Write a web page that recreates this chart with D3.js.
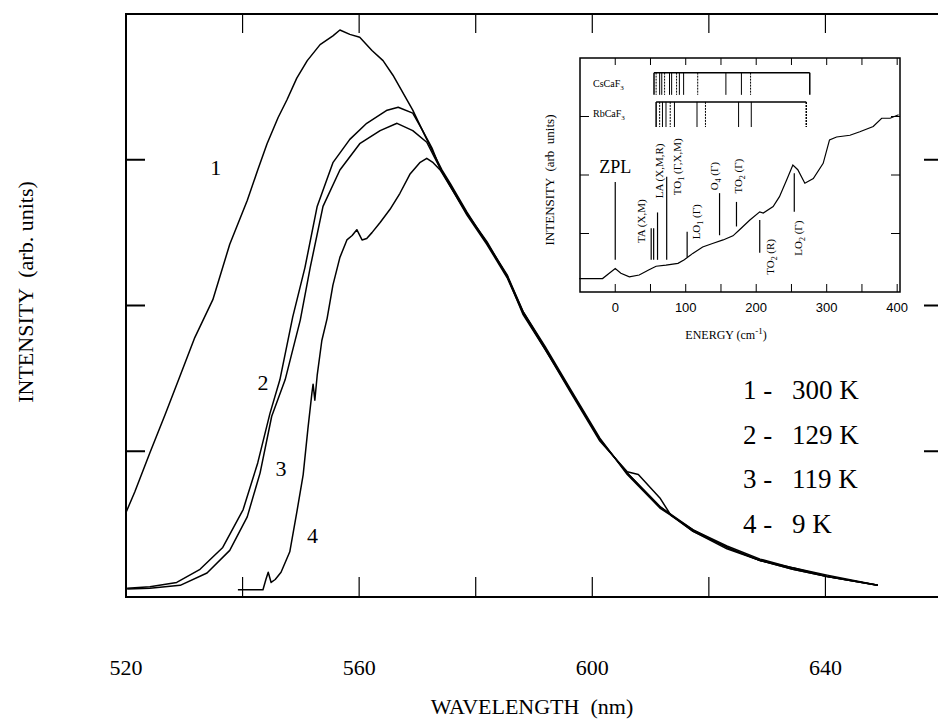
<!DOCTYPE html>
<html>
<head>
<meta charset="utf-8">
<script src="https://cdn.jsdelivr.net/npm/d3@7"></script>
<style>
  body { margin: 0; background: #fff; }
  svg { display: block; }
</style>
</head>
<body>
<div id="chart"></div>
<script>
// ---- main plot data (wavelength nm, intensity arb. units) ----
const xTickValues = [540, 560, 580, 600, 620, 640];
const xTickLabels = [520, 560, 600, 640];
const yTickValues = [1, 2, 3];

const curve1 = [[520.0,0.58],[521.5,0.72],[524.1,0.99],[526.7,1.25],[529.3,1.52],[531.8,1.78],
  [534.9,2.04],[537.8,2.42],[540.8,2.72],[542.6,2.93],[544.2,3.11],[546.1,3.29],[547.6,3.41],
  [549.3,3.56],[551.1,3.68],[553.3,3.79],[555.5,3.85],[556.7,3.89],[558.4,3.86],[560.1,3.84],
  [562.2,3.75],[564.1,3.68],[565.8,3.58],[567.5,3.46],[569.2,3.34],[571.0,3.19],[572.7,3.05],
  [574.2,2.93],[575.6,2.84],[578.5,2.64],[581.9,2.43],[585.4,2.21],[588.1,1.96],[591.9,1.71],
  [596.2,1.42],[601.3,1.08],[606.0,0.85],[611.6,0.62],[617.3,0.46],[623.1,0.34],[628.8,0.25],
  [634.4,0.19],[640.3,0.14],[649.0,0.08]];

const curve2 = [[520.2,0.06],[524.1,0.07],[528.7,0.10],[532.7,0.19],[536.6,0.34],[540.1,0.60],
  [542.6,0.92],[544.7,1.26],[546.4,1.49],[548.6,1.92],[550.7,2.26],[552.8,2.68],[555.5,2.98],
  [558.4,3.14],[561.3,3.25],[564.8,3.34],[566.7,3.36],[569.2,3.32],[570.9,3.20],[572.5,3.08],
  [573.9,2.94],[575.6,2.82],[578.5,2.62],[581.9,2.42],[585.4,2.19],[588.1,1.95],[591.9,1.70],
  [596.2,1.41],[601.3,1.07],[606.0,0.86],[607.9,0.84],[611.6,0.68],[613.5,0.56],[617.3,0.45],
  [623.1,0.33],[628.8,0.25],[634.4,0.20],[640.3,0.14],[649.0,0.08]];

const curve3 = [[520.2,0.055],[524.1,0.06],[529.3,0.08],[533.9,0.165],[537.8,0.32],[540.8,0.55],
  [543.0,0.85],[545.0,1.24],[547.3,1.49],[549.9,1.90],[551.6,2.26],[553.8,2.68],[556.7,2.93],
  [560.1,3.11],[563.6,3.20],[566.5,3.25],[569.2,3.20],[571.6,3.12],[573.9,2.94],[575.6,2.83],
  [578.5,2.63],[581.9,2.44],[585.4,2.20],[588.1,1.96],[591.9,1.72],[596.2,1.43],[601.3,1.09],
  [606.0,0.84],[611.6,0.61],[617.3,0.46],[623.1,0.35],[628.8,0.26],[634.4,0.20],[640.3,0.15],
  [649.0,0.08]];

const curve4 = [[539.2,0.05],[543.5,0.05],[544.0,0.12],[544.4,0.17],[544.9,0.10],[545.6,0.12],
  [546.6,0.17],[548.1,0.31],[549.3,0.58],[550.4,0.84],[551.2,1.15],[551.9,1.40],[552.1,1.46],
  [552.4,1.35],[552.8,1.52],[553.6,1.76],[554.5,1.91],[555.5,2.14],[556.7,2.33],[557.9,2.45],
  [558.8,2.48],[559.6,2.52],[560.5,2.45],[561.3,2.46],[562.2,2.50],[563.6,2.57],[565.3,2.66],
  [567.0,2.77],[568.7,2.90],[570.4,2.98],[571.6,3.01],[572.7,2.98],[573.9,2.93],[575.6,2.82],
  [578.5,2.63],[581.9,2.43],[585.4,2.20],[588.1,1.94],[591.9,1.70],[596.2,1.42],[601.3,1.08],
  [606.0,0.85],[611.6,0.62],[617.3,0.45],[623.1,0.34],[628.8,0.25],[634.4,0.19],[640.3,0.14],
  [649.0,0.08]];

const curves = [curve1, curve2, curve3, curve4];
const curveNames = ['1', '2', '3', '4'];
const curveLabelPos = [[535.4, 2.95], [543.5, 1.47], [546.6, 0.88], [552.0, 0.42]];

const legendNums = ['1 -', '2 -', '3 -', '4 -'];
const legendTemps = ['300 K', '129 K', '119 K', '9 K'];

// ---- inset data (energy cm-1, intensity arb. units) ----
const insetTickValues = [0, 50, 100, 150, 200, 250, 300, 350, 400];
const insetTickLabels = [0, 100, 200, 300, 400];
const insetYTicks = [1, 2, 3];
const insetCurve = [[-51,0.23],[-18,0.23],[-8.5,0.32],[0,0.40],[8,0.32],[20,0.26],[34,0.29],
  [48,0.38],[58,0.44],[72,0.46],[89,0.49],[98,0.55],[110,0.66],[124,0.77],[138,0.83],[153,0.89],
  [167,0.96],[176,1.06],[191,1.23],[205,1.37],[210,1.35],[224,1.46],[233,1.63],[243,1.91],
  [252,2.17],[259,2.09],[269,1.86],[281,1.94],[295,2.20],[304,2.60],[314,2.65],[333,2.68],
  [347,2.74],[366,2.83],[378,2.97],[390,2.97],[402,3.03]];

const csLines = [55, 58, 63, 66, 70, 77, 80, 87, 91, 97, 117, 157, 179, 192, 276];
const rbLines = [58, 63, 67, 72, 78, 84, 116, 128, 175, 193, 271];

// phonon markers: energy, low, high
const phononLines = [[0,0.55,1.88],[51,0.55,1.09],[54.5,0.55,1.09],[60,0.55,1.36],[73,0.55,1.97],
  [102,0.60,1.03],[148,0.97,1.69],[172,1.12,1.54],[205,0.67,1.23],[254,1.37,2.03]];
// label: [main, subscript, rest], energy, centre intensity
const phononLabels = [
  [['TA', '', ' (X,M)'], 37, 1.21],
  [['LA', '', ' (X,M,R)'], 62, 2.07],
  [['TO', '1', ' (Γ,X,M)'], 88, 2.14],
  [['LO', '1', ' (Γ)'], 114, 1.20],
  [['O', '4', ' (Γ)'], 140, 1.98],
  [['TO', '2', ' (Γ)'], 174, 1.98],
  [['TO', '2', ' (R)'], 220, 0.60],
  [['LO', '2', ' (Γ)'], 259, 0.92]
];

const W = 938, H = 724;
const serif = '"Liberation Serif", "Times New Roman", serif';
const sans = '"Liberation Sans", Arial, sans-serif';

const svg = d3.select('#chart').append('svg')
  .attr('width', W).attr('height', H)
  .style('background', '#fff');

const x = d3.scaleLinear().domain([520, 660]).range([126, 942]);
const y = d3.scaleLinear().domain([0, 4]).range([597, 14]);

// frame
const frame = svg.append('g').attr('stroke', '#000').attr('fill', 'none');
frame.append('path').attr('stroke-width', 2)
  .attr('d', `M${x(660)},${y(4)}H${x(520)}V${y(0)}H${x(660)}`);

// ticks
frame.selectAll('.bt').data(xTickValues).join('line')
  .attr('x1', d => x(d)).attr('x2', d => x(d))
  .attr('y1', y(0)).attr('y2', y(0) - 20).attr('stroke-width', 1.2);
frame.selectAll('.tt').data(xTickValues).join('line')
  .attr('x1', d => x(d)).attr('x2', d => x(d))
  .attr('y1', y(4)).attr('y2', y(4) + 19).attr('stroke-width', 1.2);
frame.selectAll('.lt').data(yTickValues).join('line')
  .attr('x1', x(520)).attr('x2', x(520) + 19)
  .attr('y1', d => y(d)).attr('y2', d => y(d)).attr('stroke-width', 2);
frame.selectAll('.rt').data(yTickValues).join('line')
  .attr('x1', x(660)).attr('x2', x(660) - 18)
  .attr('y1', d => y(d)).attr('y2', d => y(d)).attr('stroke-width', 2);

// tick labels
svg.append('g').selectAll('text').data(xTickLabels).join('text')
  .attr('x', d => x(d)).attr('y', 675)
  .attr('text-anchor', 'middle')
  .style('font-family', serif).style('font-size', '22px')
  .text(d => d);

svg.append('text')
  .attr('x', 532).attr('y', 714).attr('text-anchor', 'middle')
  .style('font-family', serif).style('font-size', '22px')
  .style('white-space', 'pre')
  .text('WAVELENGTH  (nm)');

svg.append('text')
  .attr('transform', 'translate(33,292) rotate(-90)')
  .attr('text-anchor', 'middle')
  .style('font-family', serif).style('font-size', '22px')
  .style('white-space', 'pre')
  .text('INTENSITY  (arb. units)');

// curves
const line = d3.line().x(d => x(d[0])).y(d => y(d[1]));
svg.append('g').selectAll('path').data(curves).join('path')
  .attr('d', line)
  .attr('fill', 'none').attr('stroke', '#000').attr('stroke-width', 1.5)
  .attr('stroke-linejoin', 'round');

svg.append('g').selectAll('text').data(curveNames).join('text')
  .attr('x', (d, i) => x(curveLabelPos[i][0]))
  .attr('y', (d, i) => y(curveLabelPos[i][1]))
  .attr('text-anchor', 'middle').attr('dy', '0.35em')
  .style('font-family', serif).style('font-size', '22px')
  .text(d => d);

// legend
const leg = svg.append('g').style('font-family', serif).style('font-size', '27px');
leg.selectAll('.n').data(legendNums).join('text')
  .attr('x', 743).attr('y', (d, i) => 399 + i * 44.5).text(d => d);
leg.selectAll('.t').data(legendTemps).join('text')
  .attr('x', 792).attr('y', (d, i) => 399 + i * 44.5).text(d => d);

// ---- inset ----
const ix = d3.scaleLinear().domain([-50, 404]).range([580, 900]);
const iy = d3.scaleLinear().domain([0, 4]).range([292, 58]);
const inset = svg.append('g');
inset.append('rect')
  .attr('x', ix(-50)).attr('y', iy(4))
  .attr('width', ix(404) - ix(-50)).attr('height', iy(0) - iy(4))
  .attr('fill', '#fff').attr('stroke', '#000').attr('stroke-width', 1.5);

inset.selectAll('.ib').data(insetTickValues).join('line')
  .attr('x1', d => ix(d)).attr('x2', d => ix(d))
  .attr('y1', iy(0)).attr('y2', iy(0) - 8).attr('stroke', '#000');
inset.selectAll('.it').data(insetTickValues).join('line')
  .attr('x1', d => ix(d)).attr('x2', d => ix(d))
  .attr('y1', iy(4)).attr('y2', iy(4) + 7).attr('stroke', '#000');
inset.selectAll('.il').data(insetYTicks).join('line')
  .attr('x1', ix(-50)).attr('x2', ix(-50) + 9)
  .attr('y1', d => iy(d)).attr('y2', d => iy(d)).attr('stroke', '#000');
inset.selectAll('.ir').data(insetYTicks).join('line')
  .attr('x1', ix(404)).attr('x2', ix(404) - 9)
  .attr('y1', d => iy(d)).attr('y2', d => iy(d)).attr('stroke', '#000');

inset.selectAll('.itl').data(insetTickLabels).join('text')
  .attr('x', d => ix(d)).attr('y', 312).attr('text-anchor', 'middle')
  .style('font-family', sans).style('font-size', '13px')
  .text(d => d);

const en = inset.append('text')
  .attr('x', 726).attr('y', 339).attr('text-anchor', 'middle')
  .style('font-family', serif).style('font-size', '12px');
en.append('tspan').text('ENERGY  (cm');
en.append('tspan').attr('dy', -5).style('font-size', '9px').text('-1');
en.append('tspan').attr('dy', 5).text(')');

inset.append('text')
  .attr('transform', 'translate(554,180) rotate(-90)')
  .attr('text-anchor', 'middle')
  .style('font-family', serif).style('font-size', '13px')
  .style('white-space', 'pre')
  .text('INTENSITY  (arb  units)');

inset.append('path').datum(insetCurve)
  .attr('d', d3.line().x(d => ix(d[0])).y(d => iy(d[1])))
  .attr('fill', 'none').attr('stroke', '#000').attr('stroke-width', 1.2);

// combs
function comb(vals, yTop, yBot, label) {
  const g = inset.append('g').attr('stroke', '#000');
  g.append('line')
    .attr('x1', ix(d3.min(vals))).attr('x2', ix(d3.max(vals)))
    .attr('y1', iy(yTop)).attr('y2', iy(yTop)).attr('stroke-width', 1.5);
  g.selectAll('line.v').data(vals).join('line')
    .attr('x1', d => ix(d)).attr('x2', d => ix(d))
    .attr('y1', iy(yTop)).attr('y2', iy(yBot))
    .attr('stroke-width', (d, i) => (i === 0 || i === vals.length - 1) ? 1.5 : 1)
    .attr('stroke-dasharray', (d, i) => i % 3 === 1 ? '2,1' : null);
  const t = inset.append('text')
    .attr('x', 593).attr('y', iy((yTop + yBot) / 2) + 3)
    .style('font-family', serif).style('font-size', '10px');
  t.append('tspan').text(label);
  t.append('tspan').attr('dy', 3).style('font-size', '7px').text('3');
}
comb(csLines, 3.75, 3.37, 'CsCaF');
comb(rbLines, 3.25, 2.82, 'RbCaF');

inset.selectAll('.pl').data(phononLines).join('line')
  .attr('x1', d => ix(d[0])).attr('x2', d => ix(d[0]))
  .attr('y1', d => iy(d[1])).attr('y2', d => iy(d[2]))
  .attr('stroke', '#000').attr('stroke-width', 1.2);

inset.append('text')
  .attr('x', ix(0)).attr('y', 173).attr('text-anchor', 'middle')
  .style('font-family', serif).style('font-size', '18px')
  .text('ZPL');

phononLabels.forEach(p => {
  const t = inset.append('text')
    .attr('transform', `translate(${ix(p[1]) + 4},${iy(p[2])}) rotate(-90)`)
    .attr('text-anchor', 'middle')
    .style('font-family', serif).style('font-size', '11px');
  t.append('tspan').text(p[0][0]);
  if (p[0][1]) t.append('tspan').attr('dy', 3).style('font-size', '8px').text(p[0][1]);
  t.append('tspan').attr('dy', p[0][1] ? -3 : 0).text(p[0][2]);
});
</script>
</body>
</html>
